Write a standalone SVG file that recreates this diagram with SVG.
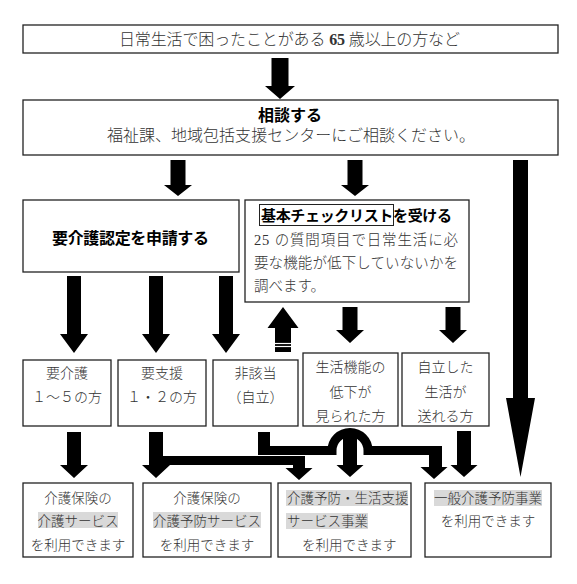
<svg xmlns="http://www.w3.org/2000/svg" width="577" height="584" viewBox="0 0 577 584">
<style>
.box{fill:#fff;stroke:#222;stroke-width:1.3}
.hl{fill:#d9d9d9}
.t{font-family:"Liberation Serif","Noto Sans CJK JP",serif;font-weight:300;fill:#333}
.b{font-family:"Noto Sans CJK JP",sans-serif;font-weight:bold;fill:#000}
.c{text-anchor:middle}
.arr{fill:#000}
</style>
<rect width="577" height="584" fill="#fff"/>

<g id="connectors">
<polygon class="arr" points="271.5,58 288.5,58 288.5,86 295,86 280,99 265,86 271.5,86"/>
<polygon class="arr" points="170.5,160 185.5,160 185.5,185 192,185 178,196 164,185 170.5,185"/>
<polygon class="arr" points="347.5,160 362.5,160 362.5,185 369,185 355,196 341,185 347.5,185"/>
<polygon class="arr" points="513,160 528,160 528,398 535,398 520.5,477 506,398 513,398"/>
<polygon class="arr" points="67,276 81,276 81,334 88,334 74,353 60,334 67,334"/>
<polygon class="arr" points="149,276 163,276 163,334 170,334 156,353 142,334 149,334"/>
<polygon class="arr" points="219,276 233,276 233,334 240,334 226,353 212,334 219,334"/>
<polygon class="arr" points="275,352 291,352 291,328 298.5,328 283,307 267.5,328 275,328"/>
<line x1="275" y1="343.5" x2="291" y2="343.5" stroke="#fff" stroke-width="1.2"/>
<line x1="275" y1="346.5" x2="291" y2="346.5" stroke="#fff" stroke-width="1.2"/>
<polygon class="arr" points="342.5,307 357.5,307 357.5,330 364,330 350,343 336,330 342.5,330"/>
<polygon class="arr" points="445.5,307 460.5,307 460.5,330 467,330 453,343 439,330 445.5,330"/>
<polygon class="arr" points="67,432 81,432 81,465 88,465 74,478 60,465 67,465"/>
<polygon class="arr" points="149,432 163,432 163,465 170,465 156,478 142,465 149,465"/>
<polygon class="arr" points="163,456 305,456 305,468 312.5,468 299,480 285.5,468 293,468 293,465 163,465"/>
<polygon class="arr" points="258,432 270,432 270,446 332,446 332,455 258,455"/>
<path d="M332 455 L332 450.5 A18 18 0 0 1 368 450.5 L368 455" fill="none" stroke="#000" stroke-width="9"/>
<polygon class="arr" points="368,446 442,446 442,467 447.5,467 434,479 420.5,467 429,467 429,455 368,455"/>
<polygon class="arr" points="343,431 357,431 357,465 363.5,465 350,477 336.5,465 343,465"/>
<polygon class="arr" points="457,431 471,431 471,465 477.5,465 464,477 450.5,465 457,465"/>
</g>

<g id="n-top">
<rect class="box" x="23" y="25" width="535" height="28"/>
<text class="t" x="119" y="45" font-size="16" textLength="341" lengthAdjust="spacing">日常生活で困ったことがある <tspan font-weight="bold">65</tspan> 歳以上の方など</text>
</g>

<g id="n-soudan">
<rect class="box" x="23" y="100" width="535" height="55"/>
<text class="b c" x="290" y="121" font-size="16">相談する</text>
<text class="t" x="107" y="141" font-size="16" textLength="368" lengthAdjust="spacing">福祉課、地域包括支援センターにご相談ください。</text>
</g>

<g id="n-shinsei">
<rect class="box" x="23" y="200" width="216" height="72"/>
<text class="b" x="52" y="244" font-size="16" textLength="157" lengthAdjust="spacing">要介護認定を申請する</text>
</g>

<g id="n-checklist">
<rect class="box" x="245" y="200" width="224" height="102"/>
<rect x="259.5" y="204.5" width="134" height="21" fill="none" stroke="#222" stroke-width="1"/>
<text class="b" x="261" y="221" font-size="15" textLength="191" lengthAdjust="spacing">基本チェックリストを受ける</text>
<text class="t" x="254" y="244.5" font-size="14.5" textLength="204" lengthAdjust="spacing">25 の質問項目で日常生活に必</text>
<text class="t" x="254" y="267.5" font-size="14.5" textLength="204" lengthAdjust="spacing">要な機能が低下していないかを</text>
<text class="t" x="254" y="290.5" font-size="14.5">調べます。</text>
</g>

<g id="n-youkaigo">
<rect class="box" x="23" y="360" width="88" height="66"/>
<text class="t c" x="67" y="378" font-size="14">要介護</text>
<text class="t c" x="67" y="402" font-size="14">１～５の方</text>
</g>

<g id="n-youshien">
<rect class="box" x="118" y="360" width="88" height="66"/>
<text class="t c" x="162" y="378" font-size="14">要支援</text>
<text class="t c" x="162" y="402" font-size="14">１・２の方</text>
</g>

<g id="n-higaitou">
<rect class="box" x="213" y="360" width="85" height="66"/>
<text class="t c" x="255.5" y="378" font-size="14">非該当</text>
<text class="t c" x="255.5" y="402" font-size="14">（自立）</text>
</g>

<g id="n-teika">
<rect class="box" x="303" y="353" width="95" height="73"/>
<text class="t c" x="350.5" y="372" font-size="14">生活機能の</text>
<text class="t c" x="350.5" y="397" font-size="14">低下が</text>
<text class="t c" x="350.5" y="421" font-size="14">見られた方</text>
</g>

<g id="n-jiritsu">
<rect class="box" x="402" y="353" width="87" height="73"/>
<text class="t c" x="445.5" y="372" font-size="14">自立した</text>
<text class="t c" x="445.5" y="397" font-size="14">生活が</text>
<text class="t c" x="445.5" y="421" font-size="14">送れる方</text>
</g>

<g id="n-kaigo-service">
<rect class="box" x="23" y="483" width="110" height="74"/>
<rect class="hl" x="38" y="512" width="80" height="16"/>
<text class="t c" x="78" y="503" font-size="13.5">介護保険の</text>
<text class="t c" x="78" y="526" font-size="13.5">介護サービス</text>
<text class="t c" x="78" y="550" font-size="13.5">を利用できます</text>
</g>

<g id="n-yobou-service">
<rect class="box" x="143" y="483" width="128" height="74"/>
<rect class="hl" x="153" y="512" width="108" height="16"/>
<text class="t c" x="207" y="503" font-size="13.5">介護保険の</text>
<text class="t c" x="207" y="526" font-size="13.5">介護予防サービス</text>
<text class="t c" x="207" y="550" font-size="13.5">を利用できます</text>
</g>

<g id="n-sougou-jigyou">
<rect class="box" x="278" y="483" width="133" height="74"/>
<rect class="hl" x="286" y="490" width="122" height="16"/>
<rect class="hl" x="286" y="513" width="82" height="16"/>
<text class="t" x="287" y="503" font-size="13.5">介護予防・生活支援</text>
<text class="t" x="287" y="526" font-size="13.5">サービス事業</text>
<text class="t" x="302" y="550" font-size="13.5">を利用できます</text>
</g>

<g id="n-ippan">
<rect class="box" x="425" y="483" width="126" height="74"/>
<rect class="hl" x="434" y="490" width="108" height="16"/>
<text class="t c" x="488" y="503" font-size="13.5">一般介護予防事業</text>
<text class="t c" x="488" y="526" font-size="13.5">を利用できます</text>
</g>
</svg>
